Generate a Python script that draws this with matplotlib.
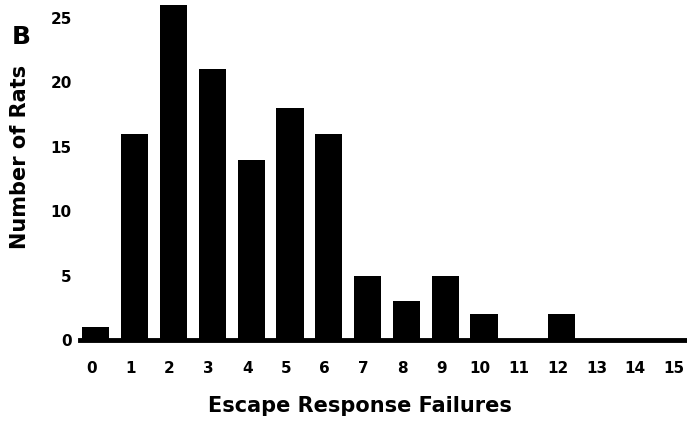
import matplotlib
matplotlib.use("Agg")
import matplotlib.pyplot as plt
import matplotlib.transforms as mtransforms

# escape response failures per rat
failures = list(range(16))
n_rats = [1, 16, 26, 21, 14, 18, 16, 5, 3, 5, 2, 0, 2, 0, 0, 0]
ytick_vals = [0, 5, 10, 15, 20, 25]

fig = plt.figure(figsize=(6.87, 4.21), dpi=100)
ax = fig.add_axes([80 / 687, 81 / 421, 607 / 687, 339 / 421])

ax.bar(failures, n_rats, width=0.7, color="black")

ax.set_xlim(-0.41, 15.23)
ax.set_ylim(0, 26.3)

for side in ["top", "right", "left"]:
    ax.spines[side].set_visible(False)
ax.spines["bottom"].set_linewidth(3.5)

ax.set_xticks(failures)
ax.set_xticklabels([str(f) for f in failures], fontsize=11, fontweight="bold")
ax.set_yticks(ytick_vals)
ax.set_yticklabels([str(v) for v in ytick_vals], fontsize=11, fontweight="bold")
ax.tick_params(axis="both", length=0)
ax.tick_params(axis="x", pad=15)
ax.tick_params(axis="y", pad=6)

# labels in the original sit a touch left of the bar centres
shift = mtransforms.ScaledTranslation(-4 / 100, 0, fig.dpi_scale_trans)
for lbl in ax.get_xticklabels():
    lbl.set_transform(lbl.get_transform() + shift)

fig.text(360 / 687, 1 - 406 / 421, "Escape Response Failures", fontsize=15,
         fontweight="bold", ha="center", va="center")
fig.text(20 / 687, 1 - 157 / 421, "Number of Rats", rotation=90, fontsize=15,
         fontweight="bold", ha="center", va="center")
fig.text(12 / 687, 1 - 37 / 421, "B", fontsize=18, fontweight="bold",
         ha="left", va="center")

fig.savefig("out.png", dpi=100)
